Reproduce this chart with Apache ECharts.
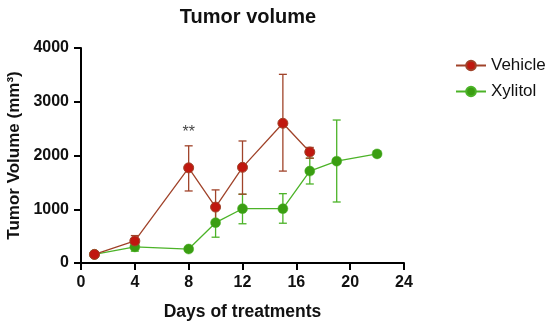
<!DOCTYPE html>
<html><head><meta charset="utf-8">
<script src="https://cdn.jsdelivr.net/npm/echarts@6/dist/echarts.min.js"></script>
<style>html,body{margin:0;padding:0;background:#fff}#c{width:550px;height:326px}</style>
</head><body><div id="c"></div>
<script>
const xTicks = [0, 4, 8, 12, 16, 20, 24];
const yTicks = [0, 1000, 2000, 3000, 4000];
const vehicleDays = [1, 4, 8, 10, 12, 15, 17];
const vehicleMean = [160, 410, 1770, 1040, 1780, 2600, 2065];
const vehicleLow  = [110, 310, 1340, 750, 1280, 1710, 1950];
const vehicleHigh = [210, 510, 2180, 1360, 2270, 3510, 2150];
const xylitolDays = [1, 4, 8, 10, 12, 15, 17, 19, 22];
const xylitolMean = [160, 300, 260, 750, 1010, 1010, 1710, 1895, 2030];
const xylitolLow  = [120, 220, 220, 480, 730, 740, 1470, 1135, 2030];
const xylitolHigh = [200, 380, 300, 1020, 1280, 1290, 1950, 2660, 2030];
const annotation = {day: 8, value: 2420, text: '**'};

const vehicleLine = '#a0432a', vehicleMark = '#c0180f';
const xylLine = '#4cb328', xylMark = '#3a9e12';
const FF = 'Arial, Liberation Sans';

function errSeries(days, lo, hi, color, z) {
  return {
    type: 'custom', silent: true, z: z,
    data: days.map((d, i) => [d, lo[i], hi[i]]),
    renderItem: function (params, api) {
      const p1 = api.coord([api.value(0), api.value(1)]);
      const p2 = api.coord([api.value(0), api.value(2)]);
      const w = 4;
      const st = {stroke: color, lineWidth: 1.3};
      return {type: 'group', children: [
        {type: 'line', shape: {x1: p1[0], y1: p1[1], x2: p2[0], y2: p2[1]}, style: st},
        {type: 'line', shape: {x1: p1[0]-w, y1: p1[1], x2: p1[0]+w, y2: p1[1]}, style: st},
        {type: 'line', shape: {x1: p2[0]-w, y1: p2[1], x2: p2[0]+w, y2: p2[1]}, style: st}
      ]};
    }
  };
}

const chart = echarts.init(document.getElementById('c'));
chart.setOption({
  animation: false,
  title: {text: 'Tumor volume', left: 243, top: 2, textAlign: 'center',
    textStyle: {fontFamily: FF, fontWeight: 'bold', fontSize: 20, color: '#111'}},
  legend: {
    orient: 'vertical', left: 450, top: 52, itemGap: 9, itemWidth: 30, itemHeight: 12,
    textStyle: {fontFamily: FF, fontSize: 17, color: '#111'},
    data: ['Vehicle', 'Xylitol']
  },
  grid: {left: 81, right: 146, top: 48, bottom: 63, containLabel: false, outerBoundsMode: 'none'},
  xAxis: {
    type: 'value', min: 0, max: 24, interval: 4,
    name: 'Days of treatments', nameLocation: 'middle', nameGap: 40,
    nameTextStyle: {fontFamily: FF, fontWeight: 'bold', fontSize: 17.5, color: '#111'},
    axisLine: {lineStyle: {color: '#000', width: 2}},
    axisTick: {show: true, length: 7, lineStyle: {color: '#000', width: 2}},
    axisLabel: {fontFamily: FF, fontWeight: 'bold', fontSize: 16, color: '#111', margin: 12,
      formatter: v => xTicks.includes(v) ? String(v) : ''},
    splitLine: {show: false}
  },
  yAxis: {
    type: 'value', min: 0, max: 4000, interval: 1000,
    name: 'Tumor Volume (mm³)', nameLocation: 'middle', nameGap: 57, nameRotate: 90,
    nameTextStyle: {fontFamily: FF, fontWeight: 'bold', fontSize: 17, color: '#111'},
    axisLine: {show: true, lineStyle: {color: '#000', width: 2}},
    axisTick: {show: true, length: 7, lineStyle: {color: '#000', width: 2}},
    axisLabel: {fontFamily: FF, fontWeight: 'bold', fontSize: 16, color: '#111', margin: 12,
      formatter: v => yTicks.includes(v) ? String(v) : ''},
    splitLine: {show: false}
  },
  series: [
    errSeries(xylitolDays, xylitolLow, xylitolHigh, xylLine, 2),
    errSeries(vehicleDays, vehicleLow, vehicleHigh, vehicleLine, 3),
    {
      name: 'Xylitol', type: 'line', z: 4,
      data: xylitolDays.map((d, i) => [d, xylitolMean[i]]),
      symbol: 'circle', symbolSize: 10,
      lineStyle: {color: xylLine, width: 1.3},
      itemStyle: {color: xylMark, borderColor: xylLine, borderWidth: 0.5}
    },
    {
      name: 'Vehicle', type: 'line', z: 5,
      data: vehicleDays.map((d, i) => [d, vehicleMean[i]]),
      symbol: 'circle', symbolSize: 10,
      lineStyle: {color: vehicleLine, width: 1.3},
      itemStyle: {color: vehicleMark, borderColor: vehicleLine, borderWidth: 1}
    },
    {
      type: 'scatter', silent: true, symbolSize: 0,
      data: [[annotation.day, annotation.value]],
      label: {show: true, position: 'inside', formatter: annotation.text,
        fontFamily: FF, fontSize: 16, color: '#111'}
    }
  ]
});
</script></body></html>
